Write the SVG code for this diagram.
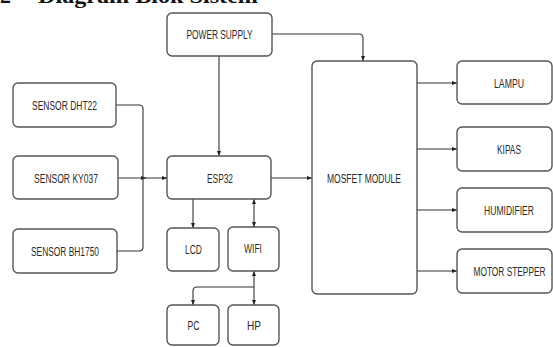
<svg xmlns="http://www.w3.org/2000/svg" width="553" height="347" viewBox="0 0 553 347">
<defs>
<marker id="ah" viewBox="0 0 10 10" refX="10" refY="5" markerWidth="5" markerHeight="5" orient="auto-start-reverse" markerUnits="userSpaceOnUse">
<path d="M0,1 L10,5 L0,9 z" fill="#222"/>
</marker>
<style>
.box{fill:#fff;stroke:#555;stroke-width:1.4}
.lbl{font-family:"Liberation Sans",Arial,sans-serif;font-size:12.5px;fill:#2a2a2a;text-anchor:middle}
.ln{fill:none;stroke:#333;stroke-width:1.1}
.title{font-family:"Liberation Serif","Times New Roman",serif;font-weight:bold;font-size:22px;fill:#111}
</style>
</defs>
<rect width="553" height="347" fill="#fff"/>
<text class="title" x="0" y="2.5">2</text>
<text class="title" x="38" y="2.5" textLength="220" lengthAdjust="spacingAndGlyphs">Diagram Blok Sistem</text>

<g id="connectors">
<path class="ln" d="M272,34 H359 Q363,34 363,38 V61" marker-end="url(#ah)"/>
<path class="ln" d="M219,56 V156" marker-end="url(#ah)"/>
<path class="ln" d="M116,105 H139 Q143,105 143,109 V178 H146" marker-end="url(#ah)"/>
<path class="ln" d="M117,251 H139 Q143,251 143,247 V178"/>
<path class="ln" d="M118,178 H167" marker-end="url(#ah)"/>
<path class="ln" d="M271,178 H312" marker-end="url(#ah)"/>
<path class="ln" d="M193,199 V228" marker-end="url(#ah)"/>
<path class="ln" d="M254,199 V227" marker-start="url(#ah)" marker-end="url(#ah)"/>
<path class="ln" d="M254,271 V305" marker-start="url(#ah)" marker-end="url(#ah)"/>
<path class="ln" d="M254,287 H197 Q193,287 193,291 V305" marker-end="url(#ah)"/>
<path class="ln" d="M417,83 H457" marker-end="url(#ah)"/>
<path class="ln" d="M417,149 H457" marker-end="url(#ah)"/>
<path class="ln" d="M417,210 H457" marker-end="url(#ah)"/>
<path class="ln" d="M417,271 H457" marker-end="url(#ah)"/>
</g>

<g id="power"><rect class="box" x="167" y="13" width="105" height="43" rx="5"/><text class="lbl" x="219.5" y="39" textLength="66" lengthAdjust="spacingAndGlyphs">POWER SUPPLY</text></g>
<g id="dht22"><rect class="box" x="13" y="83" width="103" height="44" rx="5"/><text class="lbl" x="64.5" y="109.5" textLength="65" lengthAdjust="spacingAndGlyphs">SENSOR DHT22</text></g>
<g id="ky037"><rect class="box" x="13" y="156" width="105" height="43" rx="5"/><text class="lbl" x="66" y="182.5" textLength="64" lengthAdjust="spacingAndGlyphs">SENSOR KY037</text></g>
<g id="bh1750"><rect class="box" x="13" y="229" width="104" height="44" rx="5"/><text class="lbl" x="65" y="255.5" textLength="68" lengthAdjust="spacingAndGlyphs">SENSOR BH1750</text></g>
<g id="esp32"><rect class="box" x="167" y="156" width="104" height="43" rx="5"/><text class="lbl" x="220" y="182.5" textLength="26" lengthAdjust="spacingAndGlyphs">ESP32</text></g>
<g id="lcd"><rect class="box" x="167" y="228" width="52" height="43" rx="5"/><text class="lbl" x="193.5" y="254" textLength="17" lengthAdjust="spacingAndGlyphs">LCD</text></g>
<g id="wifi"><rect class="box" x="228" y="227" width="51" height="44" rx="5"/><text class="lbl" x="253" y="253" textLength="18" lengthAdjust="spacingAndGlyphs">WIFI</text></g>
<g id="pc"><rect class="box" x="167" y="305" width="52" height="40" rx="5"/><text class="lbl" x="193.5" y="330" textLength="12" lengthAdjust="spacingAndGlyphs">PC</text></g>
<g id="hp"><rect class="box" x="228" y="305" width="51" height="40" rx="5"/><text class="lbl" x="254" y="330" textLength="14" lengthAdjust="spacingAndGlyphs">HP</text></g>
<g id="mosfet"><rect class="box" x="312" y="61" width="105" height="233" rx="5"/><text class="lbl" x="364" y="182.5" textLength="74" lengthAdjust="spacingAndGlyphs">MOSFET MODULE</text></g>
<g id="lampu"><rect class="box" x="457" y="61" width="95" height="43" rx="5"/><text class="lbl" x="509" y="87.5" textLength="30" lengthAdjust="spacingAndGlyphs">LAMPU</text></g>
<g id="kipas"><rect class="box" x="457" y="127" width="95" height="44" rx="5"/><text class="lbl" x="509" y="154" textLength="24" lengthAdjust="spacingAndGlyphs">KIPAS</text></g>
<g id="humidifier"><rect class="box" x="457" y="188" width="95" height="44" rx="5"/><text class="lbl" x="509" y="214.5" textLength="50" lengthAdjust="spacingAndGlyphs">HUMIDIFIER</text></g>
<g id="motor"><rect class="box" x="457" y="249" width="95" height="44" rx="5"/><text class="lbl" x="509.5" y="275.5" textLength="72" lengthAdjust="spacingAndGlyphs">MOTOR STEPPER</text></g>
</svg>
